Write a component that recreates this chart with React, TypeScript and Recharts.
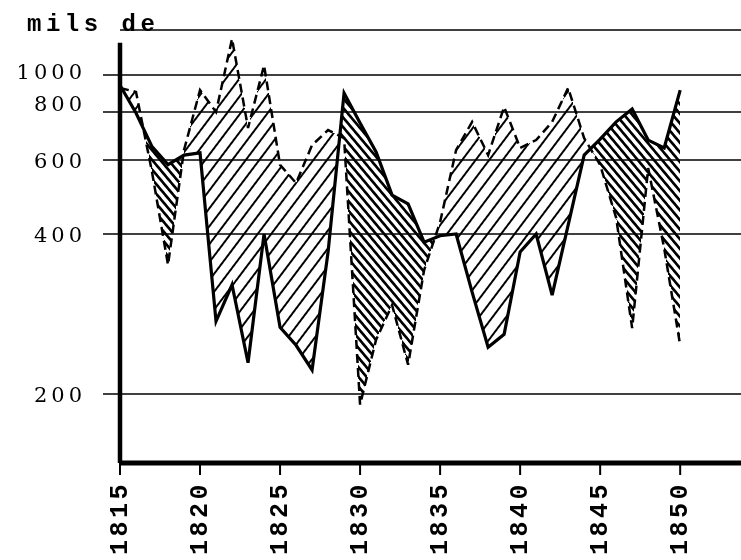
import { ComposedChart, Line, Area, XAxis, YAxis, CartesianGrid, ReferenceLine } from "recharts";

document.body.style.margin = "0";

const YEARS = [
  1815, 1816, 1817, 1818, 1819, 1820, 1821, 1822, 1823, 1824, 1825, 1826,
  1827, 1828, 1829, 1830, 1831, 1832, 1833, 1834, 1835, 1836, 1837, 1838,
  1839, 1840, 1841, 1842, 1843, 1844, 1845, 1846, 1847, 1848, 1849, 1850,
];

// trazo continuo
const SOLID = [
  940, 795, 650, 585, 618, 626, 274, 321, 229, 400, 267, 247,
  222, 370, 897, 749, 630, 495, 472, 386, 397, 400, 311, 245,
  259, 370, 400, 307, 420, 618, 680, 754, 815, 676, 645, 913,
];

// trazo discontinuo
const DASHED = [
  925, 903, 562, 350, 637, 913, 800, 1250, 727, 1062, 584, 529,
  656, 718, 684, 191, 253, 294, 227, 342, 427, 637, 754, 618,
  825, 645, 676, 754, 925, 684, 584, 437, 266, 574, 376, 247,
];

const X_TICKS = [1815, 1820, 1825, 1830, 1835, 1840, 1845, 1850];
const Y_TICKS = [200, 400, 600, 800, 1000];

// the printed axis is not a clean log scale, so the spacing of the labelled
// values is given here (px above the x axis) and log-interpolated in between
const Y_STOPS = [
  { value: 148, at: 0 },
  { value: 200, at: 69 },
  { value: 400, at: 229 },
  { value: 600, at: 303 },
  { value: 800, at: 351 },
  { value: 1000, at: 388 },
  { value: 1320, at: 433 },
];

const data = YEARS.map((year, i) => ({ year, solid: SOLID[i], dashed: DASHED[i] }));

function warp(v: number) {
  const lv = Math.log10(Math.max(v, 1));
  let i = 0;
  while (i < Y_STOPS.length - 2 && v > Y_STOPS[i + 1].value) i++;
  const a = Y_STOPS[i];
  const b = Y_STOPS[i + 1];
  const la = Math.log10(a.value);
  const lb = Math.log10(b.value);
  return a.at + ((lv - la) / (lb - la)) * (b.at - a.at);
}

function unwarp(u: number) {
  let i = 0;
  while (i < Y_STOPS.length - 2 && u > Y_STOPS[i + 1].at) i++;
  const a = Y_STOPS[i];
  const b = Y_STOPS[i + 1];
  const la = Math.log10(a.value);
  const lb = Math.log10(b.value);
  return Math.pow(10, la + ((u - a.at) / (b.at - a.at)) * (lb - la));
}

// minimal d3-like scale object for the y axis
function stretchScale(): any {
  let dom = [148, 1320];
  let rng = [0, 1];
  const scale: any = (v: number) => {
    const u0 = warp(dom[0]);
    const u1 = warp(dom[1]);
    return rng[0] + ((warp(v) - u0) / (u1 - u0)) * (rng[1] - rng[0]);
  };
  scale.domain = (d?: any[]) => {
    if (d === undefined) return dom.slice();
    dom = d.map(Number);
    return scale;
  };
  scale.range = (r?: any[]) => {
    if (r === undefined) return rng.slice();
    rng = r.map(Number);
    return scale;
  };
  scale.copy = () => stretchScale().domain(dom).range(rng);
  scale.invert = (px: number) => {
    const u0 = warp(dom[0]);
    const u1 = warp(dom[1]);
    return unwarp(u0 + ((px - rng[0]) / (rng[1] - rng[0])) * (u1 - u0));
  };
  scale.ticks = () => Y_TICKS.slice();
  scale.tickFormat = () => (v: number) => String(v);
  return scale;
}

const yScale = stretchScale();

const W = 741;
const H = 560;
const AXIS_W = 120;
const MARGIN = { top: 30, right: 0, bottom: 0, left: 0 };

function XTick({ x, y, payload }: any) {
  return (
    <text
      transform={`translate(${x},${y}) rotate(-90)`}
      textAnchor="end"
      dominantBaseline="central"
      style={{ fontFamily: "'Liberation Mono', 'Courier New', monospace", fontWeight: 700 }}
      fontSize={25}
      letterSpacing={3.5}
      fill="#000"
    >
      {payload.value}
    </text>
  );
}

function YTick({ y, payload }: any) {
  const shift = payload.value === 800 ? -9 : payload.value === 1000 ? -4 : 0;
  return (
    <text
      x={AXIS_W - 34}
      y={y + shift}
      dy="0.36em"
      textAnchor="end"
      style={{ fontFamily: "'DejaVu Serif', serif" }}
      fontSize={21}
      letterSpacing={4}
      fill="#000"
    >
      {payload.value}
    </text>
  );
}

function renderAxes(show: boolean) {
  return [
    <XAxis
      key="x"
      dataKey="year"
      type="number"
      domain={[1815, 1853.8]}
      ticks={X_TICKS}
      interval={0}
      height={97}
      tickSize={12}
      tickMargin={6}
      tick={show ? (p: any) => <XTick {...p} /> : false}
      tickLine={show ? { stroke: "#000", strokeWidth: 2 } : false}
      axisLine={show ? { stroke: "#000", strokeWidth: 5 } : false}
    />,
    <YAxis
      key="y"
      type="number"
      scale={yScale}
      domain={[148, 1320]}
      ticks={Y_TICKS}
      interval={0}
      width={AXIS_W}
      tickSize={17}
      tickMargin={17}
      tick={show ? (p: any) => <YTick {...p} /> : false}
      tickLine={show ? { stroke: "#000", strokeWidth: 1.5 } : false}
      axisLine={false}
    />,
  ];
}

export default function App() {
  const layer = { position: "absolute" as const, left: 0, top: 0 };
  const hatchLayer = { ...layer, shapeRendering: "crispEdges" as const };
  return (
    <div style={{ position: "relative", width: W, height: H, background: "#fff", fontFamily: "serif" }}>
      {/* solid above dashed: dense back-hatching */}
      <div style={hatchLayer}>
        <ComposedChart width={W} height={H} data={data} margin={MARGIN}>
          <defs>
            <pattern id="hatchDense" patternUnits="userSpaceOnUse" width={6.2} height={6.2} patternTransform="rotate(-40)">
              <rect x={0} y={0} width={2.3} height={6.2} fill="#000" />
            </pattern>
          </defs>
          {renderAxes(false)}
          <Area dataKey="solid" type="linear" baseValue="dataMin" fill="url(#hatchDense)" fillOpacity={1} stroke="none" dot={false} activeDot={false} isAnimationActive={false} />
          <Area dataKey="dashed" type="linear" baseValue="dataMin" fill="#fff" fillOpacity={1} stroke="none" dot={false} activeDot={false} isAnimationActive={false} />
        </ComposedChart>
      </div>
      {/* dashed above solid: sparse forward hatching, multiplied over */}
      <div style={{ ...hatchLayer, mixBlendMode: "multiply" }}>
        <ComposedChart width={W} height={H} data={data} margin={MARGIN}>
          <defs>
            <pattern id="hatchSparse" patternUnits="userSpaceOnUse" width={10.8} height={10.8} patternTransform="rotate(37)">
              <rect x={0} y={0} width={1.7} height={10.8} fill="#000" />
            </pattern>
          </defs>
          {renderAxes(false)}
          <Area dataKey="dashed" type="linear" baseValue="dataMin" fill="url(#hatchSparse)" fillOpacity={1} stroke="none" dot={false} activeDot={false} isAnimationActive={false} />
          <Area dataKey="solid" type="linear" baseValue="dataMin" fill="#fff" fillOpacity={1} stroke="none" dot={false} activeDot={false} isAnimationActive={false} />
        </ComposedChart>
      </div>
      {/* axes, grid and the two lines */}
      <div style={layer}>
        <ComposedChart width={W} height={H} data={data} margin={MARGIN}>
          <CartesianGrid vertical={false} stroke="#000" strokeWidth={1.5} />
          {renderAxes(true)}
          <ReferenceLine
            segment={[
              { x: 1815, y: 148 },
              { x: 1815, y: 1220 },
            ]}
            stroke="#000"
            strokeWidth={4.5}
          />
          <Line dataKey="dashed" type="linear" stroke="#000" strokeWidth={2.5} strokeDasharray="9 5" dot={false} activeDot={false} isAnimationActive={false} />
          <Line dataKey="solid" type="linear" stroke="#000" strokeWidth={3.2} dot={false} activeDot={false} isAnimationActive={false} />
        </ComposedChart>
      </div>
      <div
        style={{
          position: "absolute",
          left: 27,
          top: 13,
          fontFamily: "'Liberation Mono', 'Courier New', monospace",
          fontWeight: "bold",
          fontSize: 24,
          lineHeight: "24px",
          letterSpacing: 4.5,
          whiteSpace: "nowrap",
        }}
      >
        mils de
      </div>
    </div>
  );
}
